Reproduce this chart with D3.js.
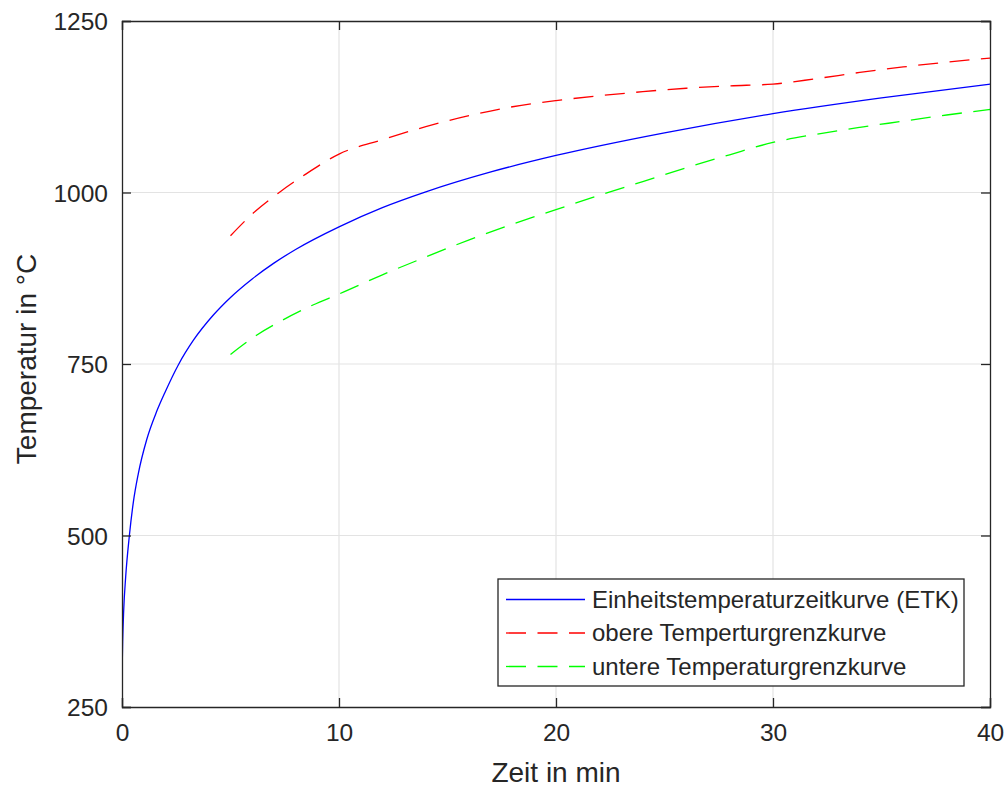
<!DOCTYPE html>
<html>
<head>
<meta charset="utf-8">
<script src="https://cdn.jsdelivr.net/npm/d3@7"></script>
<style>
  html, body { margin: 0; padding: 0; background: #ffffff; }
  svg { display: block; }
  text { font-family: "Liberation Sans", Arial, Helvetica, sans-serif; fill: #262626; }
</style>
</head>
<body>
<script>
// ---- data ----
const timeEtk = [0, 0.03, 0.08, 0.17, 0.34, 0.52, 0.75, 1.14, 1.6, 2.0, 2.6, 3.3, 4.2, 5, 6, 7, 8, 10, 12, 14, 17, 20, 25, 30, 35, 40];
const etk     = [294, 345, 392, 440, 500, 548, 590, 640, 681, 710, 749, 785, 821, 847, 874, 897, 917, 950, 978, 1001, 1030, 1054, 1087, 1115, 1138, 1158];

const timeUpper = [5, 6.05, 7.2, 8.43, 10, 12, 14, 16, 18, 20, 22, 24, 26, 28, 30, 32, 34, 36, 38, 40];
const upper     = [937, 970, 999, 1026, 1056, 1077, 1096, 1112, 1125, 1134, 1141, 1147, 1152, 1155.5, 1158, 1166, 1175, 1183, 1190, 1196];

const timeLower = [5, 6.2, 7.4, 8.8, 10, 12, 14, 16, 18, 20, 22, 24, 26, 28, 30, 32, 34, 36, 38, 40];
const lower     = [764, 792, 814, 836, 852, 880, 906, 931, 954, 975, 996, 1016, 1036, 1055, 1073, 1085, 1095, 1104, 1113, 1121];

const xTicks = [0, 10, 20, 30, 40];
const yTicks = [250, 500, 750, 1000, 1250];

const seriesNames = ["Einheitstemperaturzeitkurve (ETK)", "obere Temperturgrenzkurve", "untere Temperaturgrenzkurve"];
const seriesColors = ["#0000ff", "#ff0000", "#00ff00"];

const xLabel = "Zeit in min";
const yLabel = "Temperatur in °C";

// ---- layout ----
const W = 1007, H = 787;
const margin = { left: 122, right: 17, top: 21, bottom: 80 };
const iw = W - margin.left - margin.right;
const ih = H - margin.top - margin.bottom;

const svg = d3.select("body").append("svg").attr("width", W).attr("height", H);
const g = svg.append("g").attr("transform", `translate(${margin.left},${margin.top})`);

const x = d3.scaleLinear().domain([0, 40]).range([0, iw]);
const y = d3.scaleLinear().domain([250, 1250]).range([ih, 0]);

// grid
g.append("g").selectAll("line").data(xTicks.slice(1, -1)).join("line")
  .attr("x1", d => x(d)).attr("x2", d => x(d)).attr("y1", 0).attr("y2", ih)
  .attr("stroke", "#e3e3e3").attr("stroke-width", 1.2);
g.append("g").selectAll("line").data(yTicks.slice(1, -1)).join("line")
  .attr("y1", d => y(d)).attr("y2", d => y(d)).attr("x1", 0).attr("x2", iw)
  .attr("stroke", "#e3e3e3").attr("stroke-width", 1.2);

// series
svg.append("clipPath").attr("id", "clip").append("rect")
  .attr("width", iw).attr("height", ih);
const line = d3.line().x(d => x(d[0])).y(d => y(d[1])).curve(d3.curveMonotoneX);
const sets = [
  d3.zip(timeEtk, etk),
  d3.zip(timeUpper, upper),
  d3.zip(timeLower, lower)
];
const dashes = [null, "20,11.5", "20,11.5"];
const plot = g.append("g").attr("clip-path", "url(#clip)");
sets.forEach((s, i) => {
  plot.append("path").datum(s).attr("d", line)
    .attr("fill", "none").attr("stroke", seriesColors[i]).attr("stroke-width", 1.3)
    .attr("stroke-dasharray", dashes[i]);
});

// axes
const tickLen = 9;
const axColor = "#262626";
const xAxisB = g.append("g").attr("transform", `translate(0,${ih})`)
  .call(d3.axisBottom(x).tickValues(xTicks).tickSize(-tickLen).tickPadding(20).tickFormat(d3.format("d")));
const xAxisT = g.append("g")
  .call(d3.axisTop(x).tickValues(xTicks).tickSize(-tickLen).tickFormat(""));
const yAxisL = g.append("g")
  .call(d3.axisLeft(y).tickValues(yTicks).tickSize(-tickLen).tickPadding(14).tickFormat(d3.format("d")));
const yAxisR = g.append("g").attr("transform", `translate(${iw},0)`)
  .call(d3.axisRight(y).tickValues(yTicks).tickSize(-tickLen).tickFormat(""));
[xAxisB, xAxisT, yAxisL, yAxisR].forEach(a => {
  a.selectAll("path.domain").attr("stroke", axColor).attr("stroke-width", 1.3);
  a.selectAll(".tick line").attr("stroke", axColor).attr("stroke-width", 1.3);
  a.selectAll(".tick text").attr("fill", axColor).style("font-size", "24.5px")
    .style("font-family", '"Liberation Sans", Arial, Helvetica, sans-serif');
});
xAxisB.selectAll(".tick text").attr("dy", "0.71em").attr("y", 17);
yAxisL.selectAll(".tick text").attr("dy", "0.35em");

// axis labels
svg.append("text").attr("x", margin.left + iw / 2).attr("y", 782)
  .attr("text-anchor", "middle").style("font-size", "28px").text(xLabel);
svg.append("text").attr("transform", `translate(36,${margin.top + ih / 2 - 5}) rotate(-90)`)
  .attr("text-anchor", "middle").style("font-size", "28px").text(yLabel);

// legend
const lg = svg.append("g");
const lx = 498, ly = 579, lw = 466, lh = 107;
lg.append("rect").attr("x", lx).attr("y", ly).attr("width", lw).attr("height", lh)
  .attr("fill", "#ffffff").attr("stroke", axColor).attr("stroke-width", 1.3);
const rowY = [599.5, 633, 666.5];
seriesNames.forEach((name, i) => {
  lg.append("line").attr("x1", 506).attr("x2", 585).attr("y1", rowY[i]).attr("y2", rowY[i])
    .attr("stroke", seriesColors[i]).attr("stroke-width", 1.3).attr("stroke-dasharray", dashes[i]);
  lg.append("text").attr("x", 592).attr("y", rowY[i]).attr("dy", "0.35em")
    .style("font-size", "24px").attr("fill", "#000000").text(name);
});
</script>
</body>
</html>
